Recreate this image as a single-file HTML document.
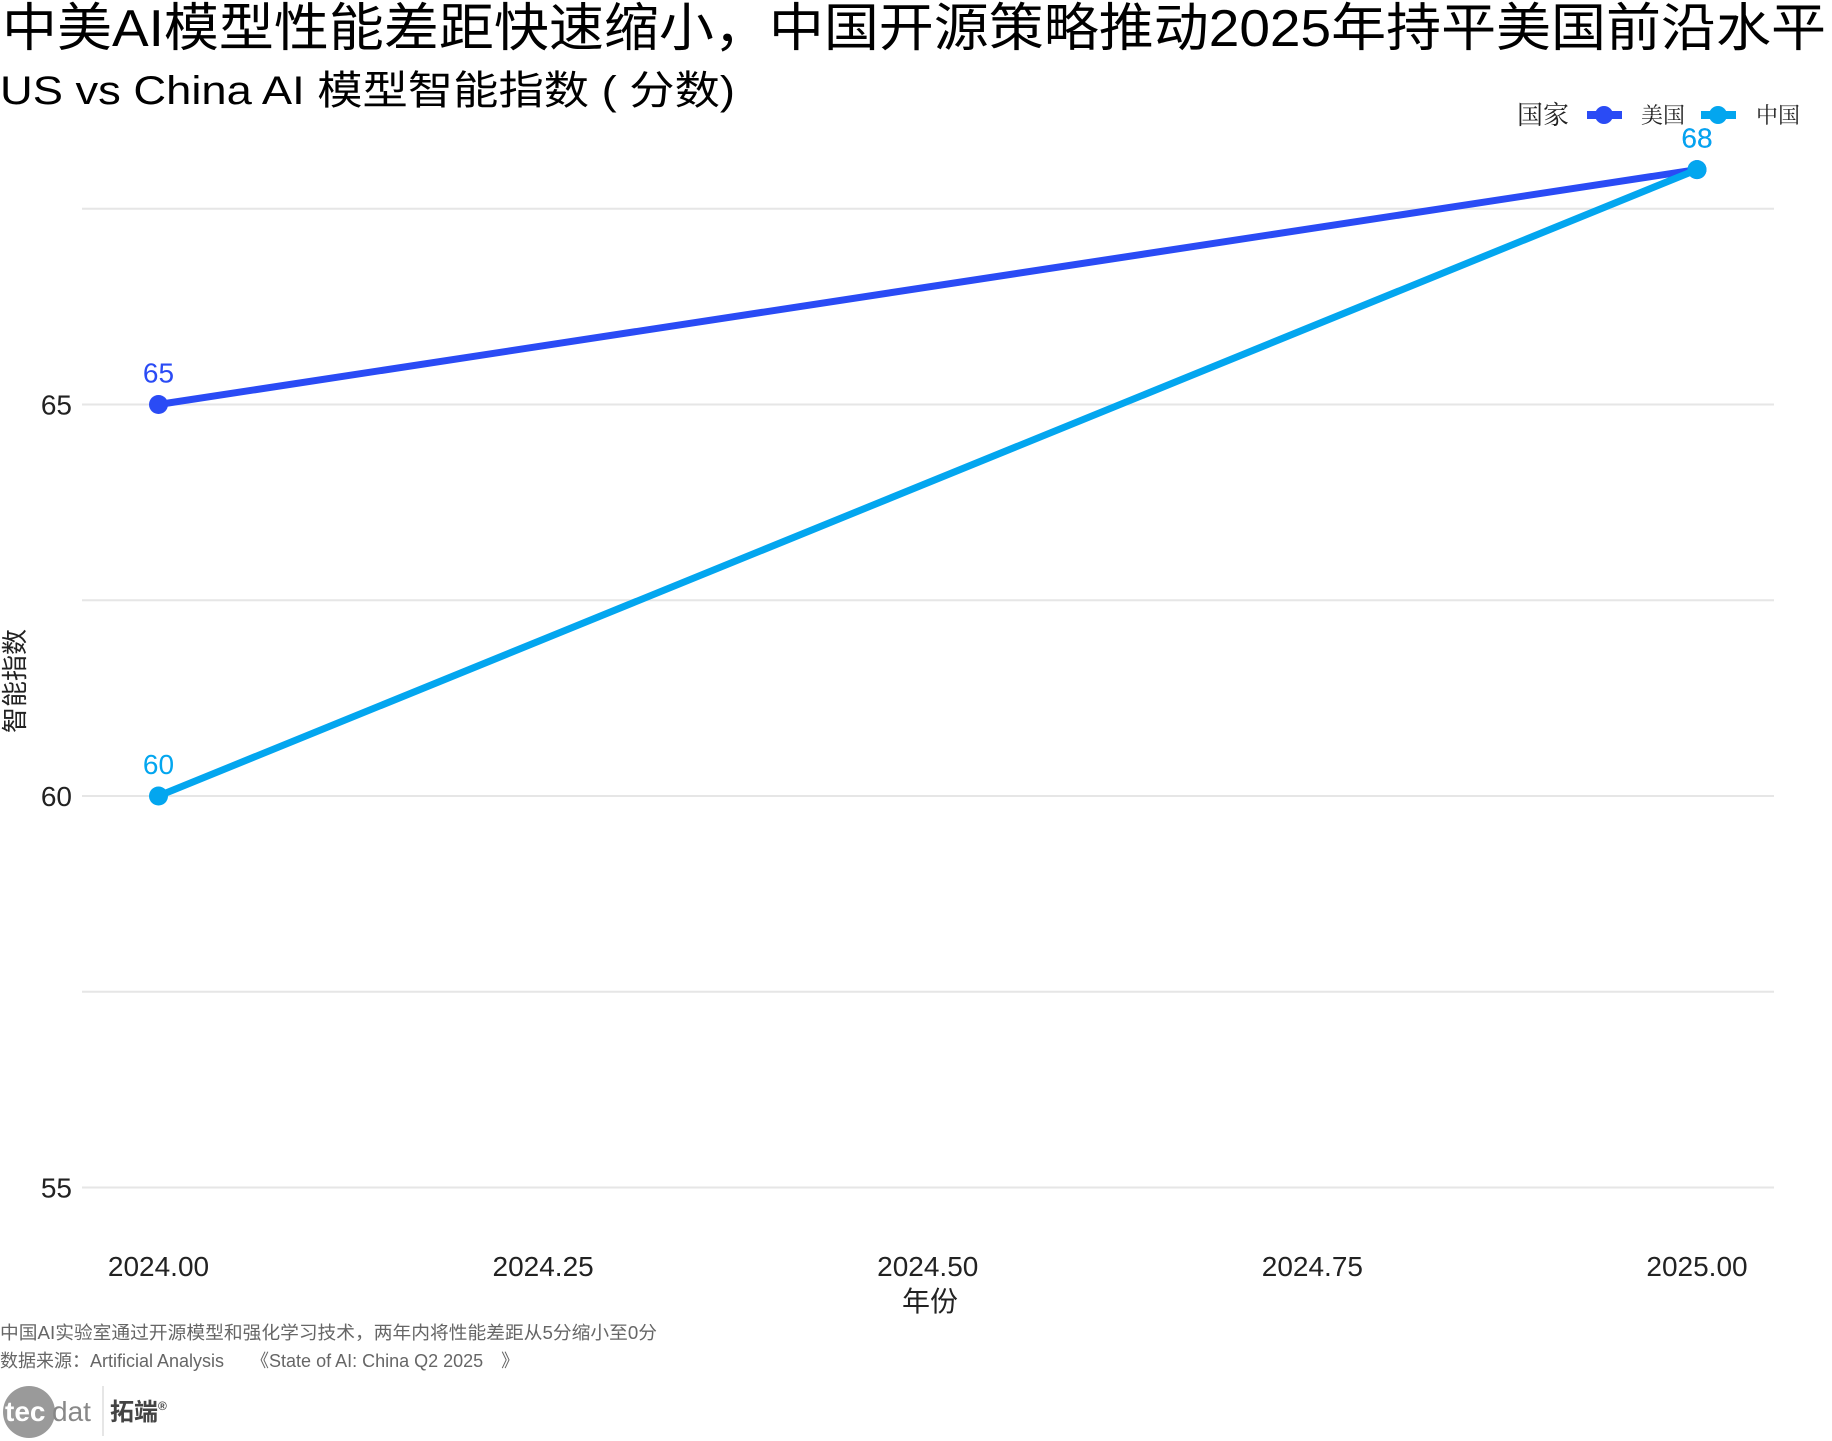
<!DOCTYPE html>
<html><head><meta charset="utf-8"><style>
html,body{margin:0;padding:0;background:#fff;}
svg{display:block;}
text{font-family:"Liberation Sans","Noto Sans CJK SC",sans-serif;}
.serif{font-family:"Liberation Serif","Noto Serif CJK SC",serif;}
</style></head><body>
<svg id="chart" width="1832" height="1441" viewBox="0 0 1832 1441" xmlns="http://www.w3.org/2000/svg">
<text x="2" y="46" font-size="52" textLength="1824" lengthAdjust="spacingAndGlyphs" fill="#000">中美AI模型性能差距快速缩小，中国开源策略推动2025年持平美国前沿水平</text>
<text x="0" y="104" font-size="40" textLength="735" lengthAdjust="spacingAndGlyphs" fill="#000">US vs China AI 模型智能指数 ( 分数)</text>
<g id="grid"></g>
<g id="yticks"></g>
<g id="xticks"></g>
<g id="series"></g>
<text x="930" y="1311" font-size="28" text-anchor="middle" fill="#222">年份</text>
<text transform="translate(24,681) rotate(-90)" font-size="26" text-anchor="middle" fill="#222">智能指数</text>
<g>
<text class="serif" x="1517" y="124" font-size="26" fill="#222">国家</text>
<g>
<line x1="1587" y1="115" x2="1622" y2="115" stroke="#2a4bf5" stroke-width="8"/><circle cx="1604" cy="115" r="9" fill="#2a4bf5"/>
<text class="serif" x="1641" y="123" font-size="22" fill="#222">美国</text></g>
<g>
<line x1="1701" y1="115" x2="1736" y2="115" stroke="#03a6ef" stroke-width="8"/><circle cx="1718" cy="115" r="9" fill="#03a6ef"/>
<text class="serif" x="1756" y="123" font-size="22" fill="#222">中国</text></g>
</g>
<text x="0" y="1339" font-size="18" fill="#666" textLength="657" lengthAdjust="spacingAndGlyphs">中国AI实验室通过开源模型和强化学习技术，两年内将性能差距从5分缩小至0分</text>
<text x="0" y="1367" font-size="18" fill="#666">数据来源：Artificial Analysis　　《State of AI: China Q2 2025　》</text>
<g>
<circle cx="29" cy="1412" r="26" fill="#9a9a9a"/>
<text x="5" y="1421" font-size="28" fill="#fff" font-weight="bold">tec</text>
<text x="52" y="1421" font-size="28" fill="#888">dat</text>
<line x1="103" y1="1386" x2="103" y2="1436" stroke="#ccc" stroke-width="1"/>
<text x="110" y="1420" font-size="24" font-weight="bold" fill="#444">拓端<tspan font-size="12" dy="-10">®</tspan></text>
</g>
</svg>
<script>
const categories = [2024.0, 2025.0];
const usValues = [65, 68];
const chinaValues = [60, 68];
const yTicks = [55, 60, 65];
const yGrid = [55, 57.5, 60, 62.5, 65, 67.5];
const xTicks = [2024.0, 2024.25, 2024.5, 2024.75, 2025.0];
const xTickLabels = ["2024.00","2024.25","2024.50","2024.75","2025.00"];

const NS = "http://www.w3.org/2000/svg";
const xScale = v => 158.5 + (v - 2024) * (1697 - 158.5);
const yScale = v => 796 - (v - 60) * 78.3;
function mk(tag, attrs, parent){const e=document.createElementNS(NS,tag);for(const k in attrs)e.setAttribute(k,attrs[k]);parent.appendChild(e);return e;}

const grid=document.getElementById('grid');
yGrid.forEach(v=>{
  const l=mk('line',{x1:82,x2:1774,y1:yScale(v),y2:yScale(v),stroke:'#e6e6e6','stroke-width':2},grid);
  
  
});
const yt=document.getElementById('yticks');
yTicks.forEach(v=>{
  const t=mk('text',{x:72,y:yScale(v)+10,'font-size':28,'text-anchor':'end',fill:'#222'},yt);
  t.textContent=String(v);
  
  
});
const xt=document.getElementById('xticks');
xTicks.forEach((v,i)=>{
  const t=mk('text',{x:xScale(v),y:1276,'font-size':28,'text-anchor':'middle',fill:'#222'},xt);
  t.textContent=xTickLabels[i];
  
  
});
const sg=document.getElementById('series');
function drawSeries(vals,color,name){
  const g=mk('g',{},sg);
  
  
  const pts=categories.map((c,i)=>xScale(c)+','+yScale(vals[i])).join(' ');
  const pl=mk('polyline',{points:pts,fill:'none',stroke:color,'stroke-width':7,'stroke-linecap':'round'},g);
  
  
  categories.forEach((c,i)=>{
    const p=mk('circle',{cx:xScale(c),cy:yScale(vals[i]),r:9.5,fill:color},g);
    
    
    const t=mk('text',{x:xScale(c),y:yScale(vals[i])-22,'font-size':28,'text-anchor':'middle',fill:color},g);
    t.textContent=String(vals[i]);
    
    
  });
}
drawSeries(usValues,'#2a4bf5','series-us');
drawSeries(chinaValues,'#03a6ef','series-china');
</script>
</body></html>
